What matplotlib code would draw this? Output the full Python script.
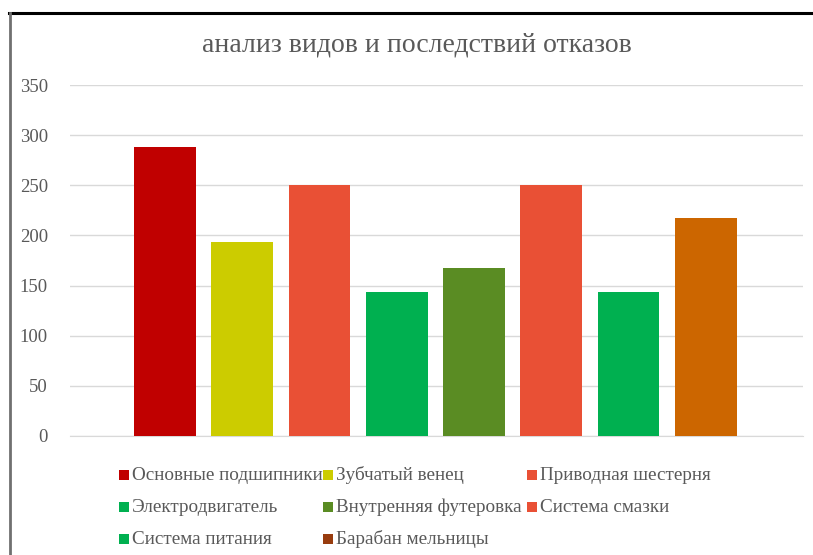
import matplotlib.pyplot as plt
from matplotlib.patches import Rectangle
from matplotlib.lines import Line2D

categories = ["Основные подшипники", "Зубчатый венец", "Приводная шестерня",
              "Электродвигатель", "Внутренняя футеровка", "Система смазки",
              "Система питания", "Барабан мельницы"]
values = [288, 193, 250, 144, 168, 250, 144, 217]
bar_colors = ["#C00000", "#CCCC00", "#E95035", "#00B050",
              "#5A8C23", "#E95035", "#00B050", "#CC6600"]
legend_colors = ["#C00000", "#CCCC00", "#E95035", "#00B050",
                 "#5A8C23", "#E95035", "#00B050", "#983C0E"]
y_ticks = [0, 50, 100, 150, 200, 250, 300, 350]

W, H = 813, 555
plt.rcParams['font.family'] = ['Liberation Serif', 'DejaVu Serif']
text_color = "#595959"

fig = plt.figure(figsize=(W / 100, H / 100), dpi=100)
fig.patch.set_facecolor("white")

# рамка диаграммы (верх и левый край)
fig.add_artist(Line2D([9 / W, 1], [1 - 12.5 / H, 1 - 12.5 / H], color="black", lw=2.2))
fig.add_artist(Line2D([9.5 / W, 9.5 / W], [0, 1 - 12.5 / H], color="#707070", lw=2))

ax = fig.add_axes([70 / W, 1 - 436 / H, (803 - 70) / W, (436 - 85) / H])
x = list(range(len(values)))
ax.bar(x, values, width=0.80, color=bar_colors, zorder=3)
ax.set_ylim(0, 350)
ax.set_xlim(-1.23, 8.26)
ax.set_yticks(y_ticks)
ax.set_yticklabels([str(t) for t in y_ticks])
ax.set_xticks([])
ax.grid(axis="y", color="#D9D9D9", lw=1, zorder=0)
for s in ["top", "right", "left"]:
    ax.spines[s].set_visible(False)
ax.spines["bottom"].set_color("#D9D9D9")
ax.tick_params(axis="y", length=0, pad=16, labelsize=13.5, labelcolor=text_color)

fig.text(417 / W, 1 - 45 / H, "анализ видов и последствий отказов",
         ha="center", va="center", fontsize=20, color=text_color)

# легенда (порядок по строкам, как в Excel)
col_x = [119, 323, 527]
row_y = [475, 507, 539]
for i, (name, c) in enumerate(zip(categories, legend_colors)):
    cx = col_x[i % 3]
    cy = row_y[i // 3]
    fig.add_artist(Rectangle((cx / W, 1 - (cy + 5) / H), 10 / W, 10 / H,
                             facecolor=c, edgecolor="none"))
    fig.text((cx + 13) / W, 1 - cy / H, name, ha="left", va="center",
             fontsize=13.8, color=text_color)

fig.savefig("out.png", dpi=100)
